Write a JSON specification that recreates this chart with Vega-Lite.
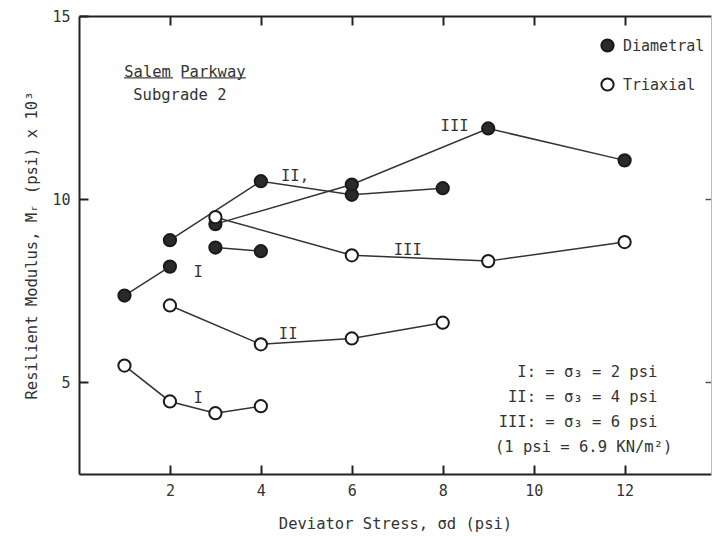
{
  "$schema": "https://vega.github.io/schema/vega-lite/v6.json",
  "width": 632,
  "height": 458,
  "autosize": {"type": "none"},
  "padding": {"left": 79, "top": 16, "right": 2, "bottom": 62},
  "background": "white",
  "config": {
    "view": {"stroke": null},
    "font": "DejaVu Sans Mono",
    "axis": {
      "domainColor": "#222",
      "domainWidth": 2,
      "tickColor": "#222",
      "tickWidth": 2,
      "tickSize": -9,
      "grid": false,
      "labelFont": "DejaVu Sans Mono",
      "labelFontSize": 15,
      "labelColor": "#333",
      "titleFont": "DejaVu Sans Mono",
      "titleFontSize": 15.5,
      "titleFontWeight": "normal",
      "titleColor": "#333"
    }
  },
  "datasets": {
    "points": [
      {"series": "D-Ia", "test": "Diametral", "stress": 1, "modulus": 7.37},
      {"series": "D-Ia", "test": "Diametral", "stress": 2, "modulus": 8.16},
      {"series": "D-Ib", "test": "Diametral", "stress": 3, "modulus": 8.68},
      {"series": "D-Ib", "test": "Diametral", "stress": 4, "modulus": 8.58},
      {"series": "D-II", "test": "Diametral", "stress": 2, "modulus": 8.88},
      {"series": "D-II", "test": "Diametral", "stress": 4, "modulus": 10.49},
      {"series": "D-II", "test": "Diametral", "stress": 6, "modulus": 10.12},
      {"series": "D-II", "test": "Diametral", "stress": 8, "modulus": 10.3},
      {"series": "D-III", "test": "Diametral", "stress": 3, "modulus": 9.32},
      {"series": "D-III", "test": "Diametral", "stress": 6, "modulus": 10.4},
      {"series": "D-III", "test": "Diametral", "stress": 9, "modulus": 11.93},
      {"series": "D-III", "test": "Diametral", "stress": 12, "modulus": 11.06},
      {"series": "T-I", "test": "Triaxial", "stress": 1, "modulus": 5.46},
      {"series": "T-I", "test": "Triaxial", "stress": 2, "modulus": 4.48},
      {"series": "T-I", "test": "Triaxial", "stress": 3, "modulus": 4.16},
      {"series": "T-I", "test": "Triaxial", "stress": 4, "modulus": 4.35},
      {"series": "T-II", "test": "Triaxial", "stress": 2, "modulus": 7.1},
      {"series": "T-II", "test": "Triaxial", "stress": 4, "modulus": 6.04},
      {"series": "T-II", "test": "Triaxial", "stress": 6, "modulus": 6.2},
      {"series": "T-II", "test": "Triaxial", "stress": 8, "modulus": 6.63},
      {"series": "T-III", "test": "Triaxial", "stress": 3, "modulus": 9.51},
      {"series": "T-III", "test": "Triaxial", "stress": 6, "modulus": 8.47},
      {"series": "T-III", "test": "Triaxial", "stress": 9, "modulus": 8.31},
      {"series": "T-III", "test": "Triaxial", "stress": 12, "modulus": 8.83}
    ],
    "labels": [
      {"stress": 8.26, "modulus": 12.0, "text": "III"},
      {"stress": 4.75, "modulus": 10.63, "text": "II,"},
      {"stress": 7.23, "modulus": 8.61, "text": "III"},
      {"stress": 2.62, "modulus": 8.01, "text": "I"},
      {"stress": 4.6, "modulus": 6.32, "text": "II"},
      {"stress": 2.62, "modulus": 4.57, "text": "I"},
      {"stress": 2.33, "modulus": 13.47, "text": "Salem Parkway"},
      {"stress": 2.22, "modulus": 12.84, "text": "Subgrade 2"},
      {"stress": 11.1, "modulus": 3.24, "text": "(1 psi = 6.9 KN/m²)"}
    ],
    "notes": [
      {"stress": 12.72, "modulus": 5.28, "text": "I: = σ₃ = 2 psi"},
      {"stress": 12.72, "modulus": 4.6, "text": "II: = σ₃ = 4 psi"},
      {"stress": 12.72, "modulus": 3.92, "text": "III: = σ₃ = 6 psi"}
    ],
    "underline": [
      {"stress": 0.99, "stress2": 2.07, "modulus": 13.31},
      {"stress": 2.26, "stress2": 3.67, "modulus": 13.31}
    ]
  },
  "resolve": {"axis": {"x": "independent", "y": "independent"}},
  "layer": [
    {
      "data": {"name": "points"},
      "mark": {"type": "line", "color": "#333", "strokeWidth": 1.5},
      "encoding": {
        "x": {
          "field": "stress", "type": "quantitative",
          "scale": {"domain": [0, 13.9], "nice": false, "zero": false},
          "axis": {"orient": "bottom", "values": [2, 4, 6, 8, 10, 12], "labelPadding": 18, "title": "Deviator Stress, σd (psi)", "titlePadding": 18}
        },
        "y": {
          "field": "modulus", "type": "quantitative",
          "scale": {"domain": [2.5, 15], "nice": false, "zero": false},
          "axis": {"orient": "left", "values": [5, 10, 15], "labelPadding": 18, "title": "Resilient Modulus, Mᵣ (psi) x 10³", "titlePadding": 12}
        },
        "detail": {"field": "series"}
      }
    },
    {
      "data": {"name": "points"},
      "mark": {"type": "point", "shape": "circle", "filled": true, "size": 150, "stroke": "#1a1a1a", "strokeWidth": 2, "opacity": 1},
      "encoding": {
        "x": {
          "field": "stress", "type": "quantitative",
          "axis": {"orient": "top", "values": [2, 4, 6, 8, 10, 12], "labels": false, "title": null}
        },
        "y": {
          "field": "modulus", "type": "quantitative",
          "axis": {"orient": "right", "values": [5, 10], "labels": false, "title": null, "domainColor": "#bbb", "domainWidth": 1, "tickColor": "#555", "tickWidth": 1.5, "tickSize": -6}
        },
        "fill": {
          "field": "test", "type": "nominal",
          "scale": {"domain": ["Diametral", "Triaxial"], "range": ["#2a2a2a", "#ffffff"]},
          "legend": {
            "orient": "none", "legendX": 521, "legendY": 22, "title": null,
            "symbolType": "circle", "symbolSize": 150, "symbolStrokeColor": "#1a1a1a", "symbolStrokeWidth": 2,
            "labelFont": "DejaVu Sans Mono", "labelFontSize": 15, "labelColor": "#333",
            "rowPadding": 18, "labelOffset": 8, "padding": 0
          }
        }
      }
    },
    {
      "data": {"name": "labels"},
      "mark": {"type": "text", "align": "center", "baseline": "middle", "fontSize": 15.5, "color": "#333", "font": "DejaVu Sans Mono"},
      "encoding": {
        "x": {"field": "stress", "type": "quantitative", "axis": null},
        "y": {"field": "modulus", "type": "quantitative", "axis": null},
        "text": {"field": "text"}
      }
    },
    {
      "data": {"name": "notes"},
      "mark": {"type": "text", "align": "right", "baseline": "middle", "fontSize": 15.5, "color": "#333", "font": "DejaVu Sans Mono"},
      "encoding": {
        "x": {"field": "stress", "type": "quantitative", "axis": null},
        "y": {"field": "modulus", "type": "quantitative", "axis": null},
        "text": {"field": "text"}
      }
    },
    {
      "data": {"name": "underline"},
      "mark": {"type": "rule", "color": "#444", "strokeWidth": 1.2},
      "encoding": {
        "x": {"field": "stress", "type": "quantitative", "axis": null},
        "x2": {"field": "stress2"},
        "y": {"field": "modulus", "type": "quantitative", "axis": null}
      }
    }
  ]
}
